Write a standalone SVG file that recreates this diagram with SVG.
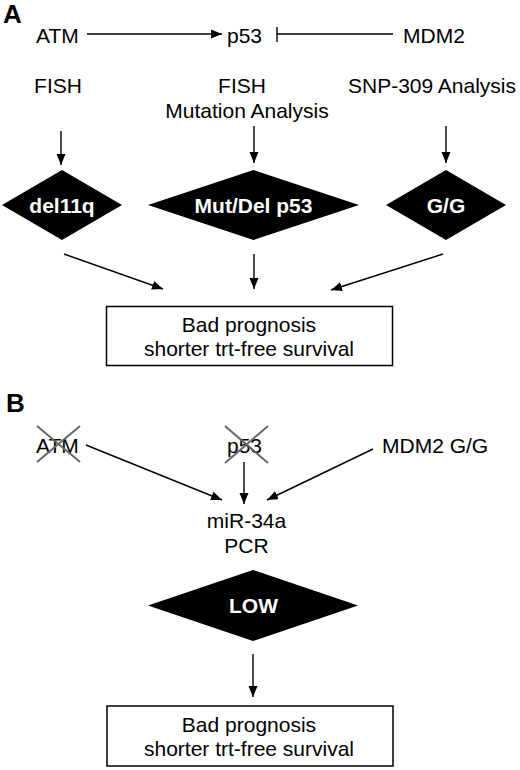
<svg xmlns="http://www.w3.org/2000/svg" width="520" height="770" viewBox="0 0 520 770">
<defs>
<style>
text{font-family:"Liberation Sans",Arial,sans-serif;fill:#000}
.t{font-size:21px}
.lab{font-size:26px;font-weight:bold}
.w{font-size:21px;font-weight:bold;fill:#fff}
.ln{stroke:#000;stroke-width:1.4;fill:none}
.arr{stroke:#000;stroke-width:1.4;fill:none;marker-end:url(#ah)}
.dia{fill:#000}
.box{fill:#fff;stroke:#000;stroke-width:1.5}
.x{stroke:#666;stroke-width:2}
</style>
<marker id="ah" markerUnits="userSpaceOnUse" markerWidth="12" markerHeight="10" refX="11" refY="4.5" orient="auto">
<path d="M0,0 L11,4.5 L0,9 z" fill="#000"/>
</marker>
</defs>
<rect width="520" height="770" fill="#fff"/>

<text class="lab" x="3" y="23">A</text>
<text class="lab" x="6" y="412">B</text>

<g id="atm"><text class="t" x="36" y="43">ATM</text></g>
<g id="p53"><text class="t" x="227" y="43">p53</text></g>
<g id="mdm2"><text class="t" x="403" y="43">MDM2</text></g>

<g id="fish1"><text class="t" x="58" y="93" text-anchor="middle">FISH</text></g>
<g id="fish2"><text class="t" x="242" y="93" text-anchor="middle">FISH</text><text class="t" x="247" y="118" text-anchor="middle">Mutation Analysis</text></g>
<g id="snp"><text class="t" x="432" y="93" text-anchor="middle">SNP-309 Analysis</text></g>

<g id="del11q"><polygon class="dia" points="2,205 62,170 122,205 62,240"/><text class="w" x="62" y="213" text-anchor="middle">del11q</text></g>
<g id="mutdel"><polygon class="dia" points="148,205 253.5,170 359,205 253.5,240"/><text class="w" x="253.5" y="213" text-anchor="middle">Mut/Del p53</text></g>
<g id="gg"><polygon class="dia" points="386,205 446,170 506,205 446,240"/><text class="w" x="446" y="213" text-anchor="middle">G/G</text></g>

<g id="boxA"><rect class="box" x="106.5" y="306.5" width="286" height="59"/><text class="t" x="249" y="332" text-anchor="middle">Bad prognosis</text><text class="t" x="249" y="356" text-anchor="middle">shorter trt-free survival</text></g>

<g id="atmB"><text class="t" x="36" y="453">ATM</text><line class="x" x1="37" y1="426" x2="80" y2="462"/><line class="x" x1="37" y1="462" x2="80" y2="426"/></g>
<g id="p53B"><text class="t" x="227" y="453">p53</text><line class="x" x1="225" y1="426" x2="268" y2="463"/><line class="x" x1="225" y1="463" x2="268" y2="426"/></g>
<g id="mdm2gg"><text class="t" x="382" y="453">MDM2 G/G</text></g>
<g id="mir"><text class="t" x="246.5" y="528" text-anchor="middle">miR-34a</text><text class="t" x="246.5" y="553" text-anchor="middle">PCR</text></g>
<g id="low"><polygon class="dia" points="148,605.5 253,570 358,605.5 253,641"/><text class="w" x="253.5" y="613" text-anchor="middle">LOW</text></g>
<g id="boxB"><rect class="box" x="107" y="706" width="286" height="60"/><text class="t" x="249" y="732" text-anchor="middle">Bad prognosis</text><text class="t" x="249" y="756" text-anchor="middle">shorter trt-free survival</text></g>

<g id="connectors">
<line class="arr" x1="87" y1="34" x2="222" y2="34"/>
<line class="ln" x1="277" y1="34" x2="393" y2="34"/>
<line class="ln" x1="277" y1="27" x2="277" y2="42"/>
<line class="arr" x1="61" y1="131" x2="61" y2="165"/>
<line class="arr" x1="254" y1="126" x2="254" y2="163"/>
<line class="arr" x1="446" y1="126" x2="446" y2="163"/>
<line class="arr" x1="64" y1="254" x2="163" y2="289"/>
<line class="arr" x1="254" y1="254" x2="254" y2="289"/>
<line class="arr" x1="443" y1="254" x2="331" y2="290"/>
<line class="arr" x1="86" y1="445" x2="222" y2="500"/>
<line class="arr" x1="244" y1="462" x2="244" y2="504"/>
<line class="arr" x1="373" y1="449" x2="267" y2="500"/>
<line class="arr" x1="253" y1="654" x2="253" y2="697"/>
</g>
</svg>
